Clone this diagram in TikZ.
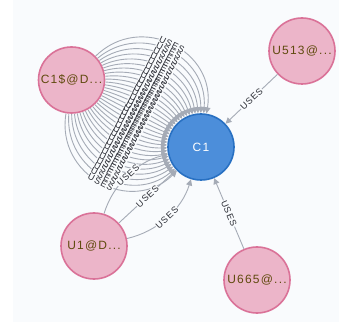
\documentclass[tikz,border=0pt]{standalone}
\usepackage{fontspec}
\setmainfont{Liberation Sans}
\newfontfamily\nodefont[LetterSpace=10]{Liberation Sans}
\usetikzlibrary{arrows.meta}
\definecolor{bgc}{HTML}{F9FBFD}
\definecolor{pinkfill}{HTML}{ECB5C9}
\definecolor{pinkdraw}{HTML}{DA7298}
\definecolor{pinktext}{HTML}{604A0E}
\definecolor{bluefill}{HTML}{4C8EDA}
\definecolor{bluedraw}{HTML}{2870C2}
\definecolor{relc}{HTML}{A5ABB6}
\definecolor{lblc}{HTML}{2A2C34}
\begin{document}
\begin{tikzpicture}[x=1pt,y=1pt,
  pinknode/.style={circle, fill=pinkfill, draw=pinkdraw, line width=1.6pt, minimum size=66pt, inner sep=0pt, text=pinktext, font=\nodefont\fontsize{12}{12}\selectfont},
  bluenode/.style={circle, fill=bluefill, draw=bluedraw, line width=1.6pt, minimum size=66pt, inner sep=0pt, text=white, font=\nodefont\fontsize{12}{12}\selectfont},
  rel/.style={draw=relc, line width=0.9pt, -{Triangle[length=6pt,width=6pt]}},
  lbl/.style={font=\nodefont\fontsize{9}{9}\selectfont, text=lblc, inner sep=0.6pt, sloped, midway},
  lblbg/.style={lbl, fill=bgc, text=bgc}]
\useasboundingbox (0,0) rectangle (339,326);
\fill[bgc] (13,4) rectangle (339,326);

\node[bluenode] (c1) at (201,179) {C1};
\node[pinknode] (c1s) at (71.5,246) {C1\$@D...};
\node[pinknode] (u513) at (302,275) {U513@...};
\node[pinknode] (u1) at (94,80) {U1@D...};
\node[pinknode] (u665) at (257,46) {U665@...};

% many USES relationships C1$@D... -> C1
\foreach \i in {0,...,30}{
  \pgfmathsetmacro{\d}{-72+4.8*\i}
  \pgfmathsetmacro{\L}{0.8514/(cos(\d/2)^2)}
  \pgfmathsetmacro{\a}{-27.36+\d}
  \pgfmathsetmacro{\b}{152.64-\d}
  \coordinate (s\i) at ([shift={(\a:34)}]c1s.center);
  \coordinate (e\i) at ([shift={(\b:34)}]c1.center);
  \draw[rel] (s\i) to[out=\a, in=\b, looseness=\L] (e\i);
}
% three USES relationships U1@D... -> C1
\foreach \j/\d in {0/-30,1/0,2/30}{
  \pgfmathsetmacro{\L}{0.8514/(cos(\d/2)^2)}
  \pgfmathsetmacro{\a}{42.8+\d}
  \pgfmathsetmacro{\b}{222.8-\d}
  \coordinate (us\j) at ([shift={(\a:34)}]u1.center);
  \coordinate (ue\j) at ([shift={(\b:34)}]c1.center);
  \draw[rel] (us\j) to[out=\a, in=\b, looseness=\L] node[lblbg]{USES} node[lbl]{USES} (ue\j);
}
\draw[rel] (u513) -- node[lblbg]{USES} node[lbl]{USES} (c1);
\draw[rel] (u665) -- node[lblbg]{USES} node[lbl]{USES} (c1);

% labels of the C1$@D... group
\foreach \i in {0,...,30}{
  \pgfmathsetmacro{\d}{-72+4.8*\i}
  \pgfmathsetmacro{\L}{0.8514/(cos(\d/2)^2)}
  \pgfmathsetmacro{\a}{-27.36+\d}
  \pgfmathsetmacro{\b}{152.64-\d}
  \path (s\i) to[out=\a, in=\b, looseness=\L] node[lblbg]{USES} (e\i);
}
\foreach \i in {0,...,30}{
  \pgfmathsetmacro{\d}{-72+4.8*\i}
  \pgfmathsetmacro{\L}{0.8514/(cos(\d/2)^2)}
  \pgfmathsetmacro{\a}{-27.36+\d}
  \pgfmathsetmacro{\b}{152.64-\d}
  \path (s\i) to[out=\a, in=\b, looseness=\L] node[lbl]{USES} (e\i);
}
\end{tikzpicture}
\end{document}
